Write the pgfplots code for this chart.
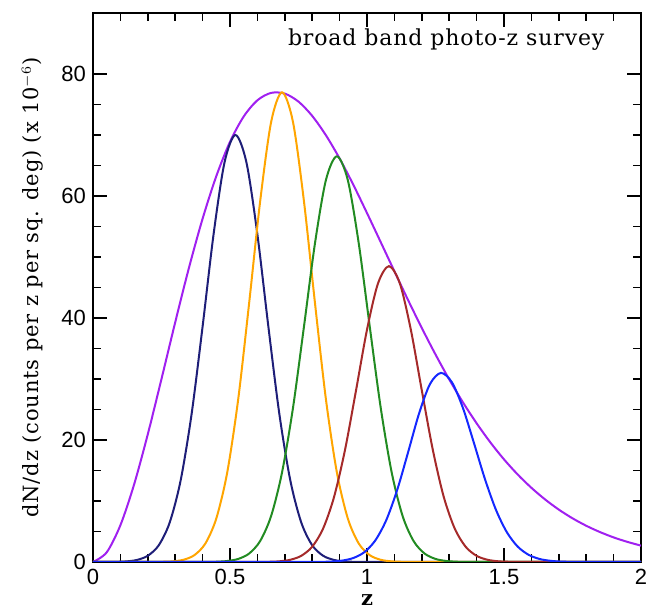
\documentclass[border=0pt]{standalone}
\usepackage{fontspec}
\setmainfont{Liberation Sans}
\newfontfamily\labfont[LetterSpace=4]{DejaVu Serif}
\usepackage{pgfplots}
\pgfplotsset{compat=1.18}
\definecolor{cpurple}{RGB}{160,32,240}
\definecolor{cnavy}{RGB}{30,30,120}
\definecolor{corange}{RGB}{255,165,0}
\definecolor{cgreen}{RGB}{34,139,34}
\definecolor{cbrown}{RGB}{165,42,42}
\definecolor{cblue}{RGB}{20,40,255}
\begin{document}
\begin{tikzpicture}
\begin{axis}[
    scale only axis, width=274pt, height=274.5pt,
    xmin=0, xmax=2, ymin=0, ymax=90,
    xtick={0,0.5,1,1.5,2}, ytick={0,20,40,60,80},
    minor x tick num=4, minor y tick num=3,
    tick align=inside,
    major tick length=7pt, minor tick length=4pt,
    every tick/.style={black, line width=0.8pt},
    axis line style={line width=1pt},
    tick label style={font=\fontsize{11}{13}\selectfont},
    /pgf/number format/assume math mode=true,
    xlabel={z}, ylabel={dN/dz (counts per z per sq. deg) (x 10$^{-6}$)},
    label style={font=\labfont\fontsize{10.5}{12}\selectfont},
    xlabel style={at={(axis description cs:0.5,-0.069)}, anchor=center, inner sep=0pt, font=\labfont\bfseries\fontsize{10.5}{12}\selectfont},
    ylabel style={at={(axis description cs:-0.11,0.5)}, anchor=center},
    every axis plot/.append style={line width=1pt, smooth},
]
% total distribution
\addplot[cpurple] coordinates {
(0,0) (0.05,1.58) (0.10,6.03) (0.15,12.71) (0.20,20.94) (0.25,30.01) (0.30,39.28)
(0.35,48.19) (0.40,56.28) (0.45,63.25) (0.50,68.88) (0.55,73.03) (0.60,75.69)
(0.65,76.90) (0.70,76.78) (0.75,75.47) (0.80,73.13) (0.85,69.96) (0.90,66.15)
(0.95,61.84) (1.00,57.20) (1.05,52.44) (1.10,47.66) (1.15,42.93) (1.20,38.36)
(1.25,34.02) (1.30,29.94) (1.35,26.18) (1.40,22.74) (1.45,19.62) (1.50,16.82)
(1.55,14.34) (1.60,12.16) (1.65,10.25) (1.70,8.59) (1.75,7.16) (1.80,5.94)
(1.85,4.91) (1.90,4.03) (1.95,3.30) (2.00,2.68)
};
% photo-z bins
\addplot[cnavy] coordinates {
(0,0) (0.04,0) (0.08,0.02) (0.12,0.09) (0.16,0.33) (0.20,1.02) (0.24,2.74)
(0.28,6.48) (0.32,13.4) (0.36,24.3) (0.40,38.6) (0.44,53.7) (0.48,65.5)
(0.52,70.0) (0.56,65.5) (0.60,53.7) (0.64,38.6) (0.68,24.3) (0.72,13.4)
(0.76,6.48) (0.80,2.74) (0.84,1.02) (0.88,0.33) (0.92,0.09) (0.96,0.02)
(1.00,0) (2,0)
};
\addplot[corange] coordinates {
(0,0) (0.21,0) (0.25,0.03) (0.29,0.10) (0.33,0.36) (0.37,1.12) (0.41,3.02)
(0.45,7.13) (0.49,14.7) (0.53,26.7) (0.57,42.5) (0.61,59.1) (0.65,72.1)
(0.69,77.0) (0.73,72.1) (0.77,59.1) (0.81,42.5) (0.85,26.7) (0.89,14.7)
(0.93,7.13) (0.97,3.02) (1.01,1.12) (1.05,0.36) (1.09,0.10) (1.13,0.03)
(1.17,0) (2,0)
};
\addplot[cgreen] coordinates {
(0,0) (0.41,0) (0.45,0.04) (0.49,0.16) (0.53,0.50) (0.57,1.39) (0.61,3.43)
(0.65,7.53) (0.69,14.7) (0.73,25.3) (0.77,38.6) (0.81,52.2) (0.85,62.6)
(0.89,66.5) (0.93,62.6) (0.97,52.2) (1.01,38.6) (1.05,25.3) (1.09,14.7)
(1.13,7.53) (1.17,3.43) (1.21,1.39) (1.25,0.50) (1.29,0.16) (1.33,0.04)
(1.37,0) (2,0)
};
\addplot[cbrown] coordinates {
(0,0) (0.60,0) (0.64,0.03) (0.68,0.11) (0.72,0.36) (0.76,1.01) (0.80,2.50)
(0.84,5.50) (0.88,10.69) (0.92,18.43) (0.96,28.14) (1.00,38.08) (1.04,45.65)
(1.08,48.5) (1.12,45.65) (1.16,38.08) (1.20,28.14) (1.24,18.43) (1.28,10.69)
(1.32,5.50) (1.36,2.50) (1.40,1.01) (1.44,0.36) (1.48,0.11) (1.52,0.03)
(1.56,0) (2,0)
};
\addplot[cblue] coordinates {
(0,0) (0.79,0) (0.83,0.02) (0.87,0.07) (0.91,0.23) (0.95,0.65) (0.99,1.60)
(1.03,3.51) (1.07,6.83) (1.11,11.78) (1.15,17.99) (1.19,24.34) (1.23,29.18)
(1.27,31.0) (1.31,29.45) (1.35,25.26) (1.39,19.55) (1.43,13.66) (1.47,8.62)
(1.51,4.91) (1.55,2.52) (1.59,1.17) (1.63,0.49) (1.67,0.19) (1.71,0.06)
(1.75,0.02) (1.79,0) (2,0)
};
\node[anchor=east, inner sep=0pt, font=\labfont\fontsize{11}{12}\selectfont] at (rel axis cs:0.934,0.951) {broad band photo-z survey};
\end{axis}
\pgfresetboundingbox
\path ([shift={(-46.5pt,-24.5pt)}]current axis.south west) rectangle ([shift={(3.5pt,6.5pt)}]current axis.north east);
\end{tikzpicture}
\end{document}
